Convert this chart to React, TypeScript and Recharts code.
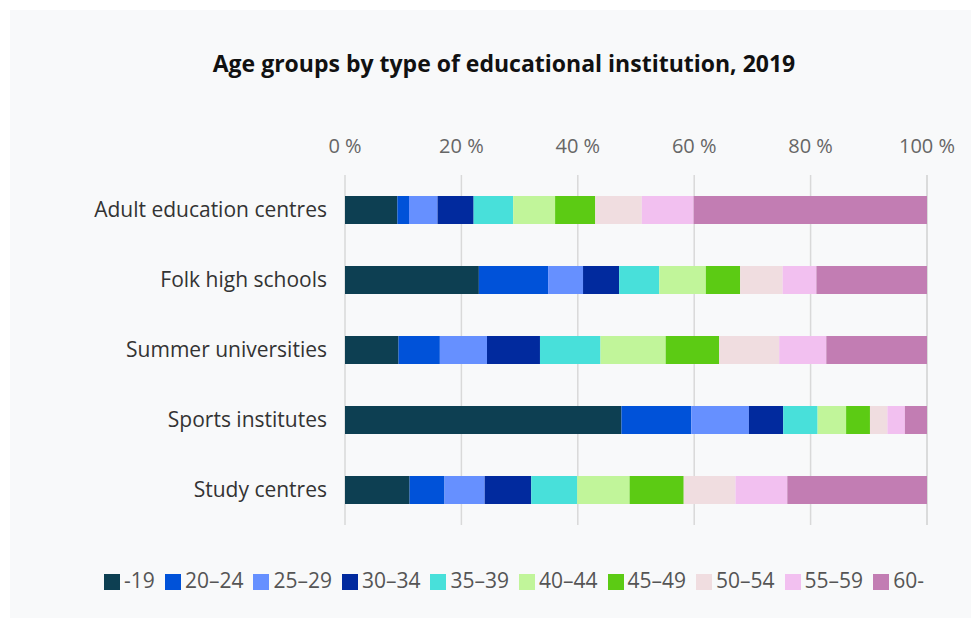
import { BarChart, Bar, XAxis, YAxis, CartesianGrid, Legend } from 'recharts';

const INSTITUTIONS = [
  'Adult education centres',
  'Folk high schools',
  'Summer universities',
  'Sports institutes',
  'Study centres',
];

const AGE_GROUPS = ['-19', '20–24', '25–29', '30–34', '35–39', '40–44', '45–49', '50–54', '55–59', '60-'];

const AGE_COLORS = [
  '#0d3f52', '#0052d9', '#6690ff', '#012a9e', '#48e0da',
  '#c1f59a', '#5ccb14', '#f0dde0', '#f2c0f0', '#c27db3',
];

// percent share per age group, one value per institution (same order as INSTITUTIONS)
const AGE_UNDER_19 = [9.0, 23.0, 9.2, 47.5, 11.1];
const AGE_20_24 = [2.0, 11.9, 7.1, 12.0, 6.0];
const AGE_25_29 = [4.9, 6.0, 8.1, 9.9, 6.9];
const AGE_30_34 = [6.2, 6.2, 9.1, 5.9, 8.0];
const AGE_35_39 = [6.8, 6.9, 10.4, 5.9, 7.9];
const AGE_40_44 = [7.2, 8.0, 11.2, 4.9, 9.0];
const AGE_45_49 = [6.9, 5.9, 9.2, 4.1, 9.3];
const AGE_50_54 = [8.0, 7.3, 10.3, 3.0, 8.9];
const AGE_55_59 = [8.9, 5.8, 8.1, 3.0, 8.9];
const AGE_60_PLUS = [40.1, 19.0, 17.3, 3.8, 24.0];

const SERIES = [
  AGE_UNDER_19, AGE_20_24, AGE_25_29, AGE_30_34, AGE_35_39,
  AGE_40_44, AGE_45_49, AGE_50_54, AGE_55_59, AGE_60_PLUS,
];

const X_TICKS = [0, 20, 40, 60, 80, 100];

const data = INSTITUTIONS.map((name, i) => {
  const row: Record<string, string | number> = { name };
  AGE_GROUPS.forEach((g, j) => {
    row[g] = SERIES[j][i];
  });
  return row;
});

const FONT = '"Open Sans", "Noto Sans", sans-serif';

export default function App() {
  return (
    <div
      style={{
        position: 'relative',
        width: 969,
        height: 608,
        marginTop: 2,
        marginLeft: 2,
        background: '#f8f9fa',
        fontFamily: FONT,
      }}
    >
      {/* title */}
      <div
        style={{
          position: 'absolute',
          top: 37,
          left: 0,
          width: 988,
          textAlign: 'center',
          fontSize: 23,
          fontWeight: 700,
          color: '#111',
        }}
      >
        Age groups by type of educational institution, 2019
      </div>
      <BarChart
        width={969}
        height={608}
        data={data}
        layout="vertical"
        margin={{ top: 125, right: 52, bottom: 65, left: 0 }}
        barCategoryGap={21}
      >
        <CartesianGrid horizontal={false} stroke="#d9d9d9" strokeWidth={1.5} />
        <XAxis
          type="number"
          orientation="top"
          domain={[0, 100]}
          ticks={X_TICKS}
          tickFormatter={(v: number) => `${v} %`}
          axisLine={false}
          tickLine={false}
          tickSize={0}
          tickMargin={22}
          height={40}
          tick={{ fontSize: 20, fill: '#666', fontFamily: FONT }}
        />
        <YAxis
          type="category"
          dataKey="name"
          width={335}
          axisLine={false}
          tickLine={false}
          tickSize={0}
          tickMargin={18}
          tick={{ fontSize: 21, fill: '#333', fontFamily: FONT }}
        />
        <Legend
          iconType="square"
          iconSize={16}
          wrapperStyle={{ bottom: 24, left: 0, width: 1018, fontSize: 21, fontFamily: FONT }}
          formatter={(value: string) => <span style={{ color: '#555' }}>{value}</span>}
        />
        {AGE_GROUPS.map((g, j) => (
          <Bar
            key={g}
            dataKey={g}
            stackId="a"
            fill={AGE_COLORS[j]}
            barSize={28}
            isAnimationActive={false}
          />
        ))}
      </BarChart>
    </div>
  );
}
